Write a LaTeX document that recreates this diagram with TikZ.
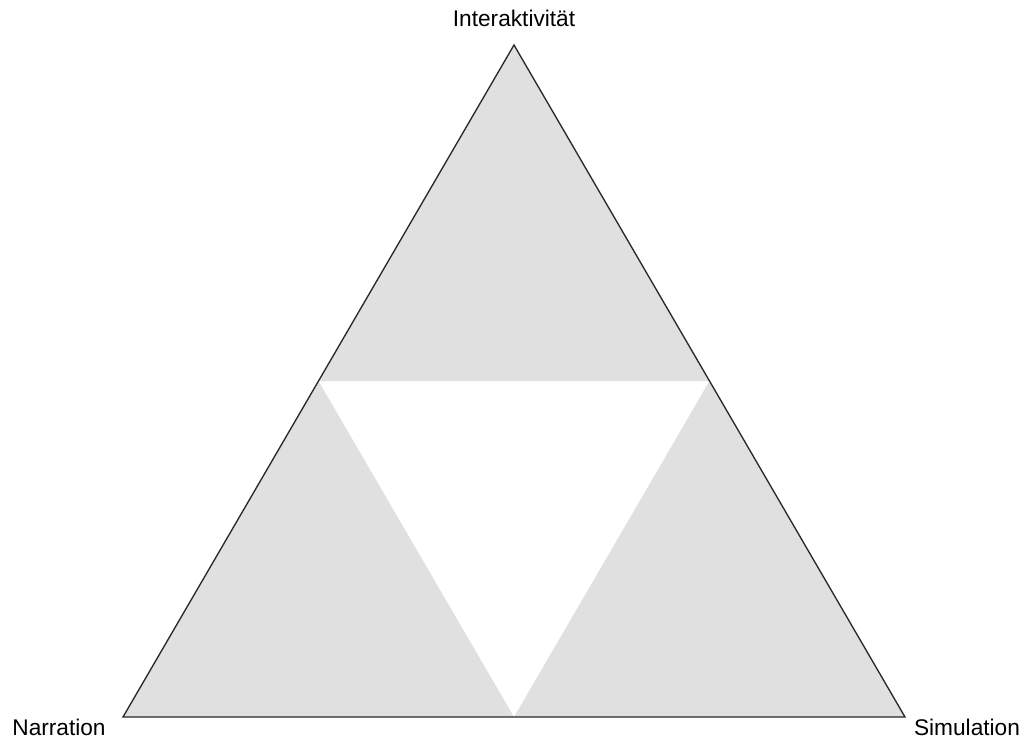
\documentclass[tikz,border=0pt]{standalone}
\usepackage{fontspec}
\setmainfont{Liberation Sans}
\usepackage{xcolor}
\usepackage{tikz}
\usetikzlibrary{positioning,calc}
\definecolor{lightgrey}{RGB}{224,224,224}
\definecolor{edgegrey}{RGB}{40,40,40}

\begin{document}
\begin{tikzpicture}[x=0.75pt,y=-0.75pt,font=\fontsize{17}{20}\selectfont,
  part/.style={fill=lightgrey,draw=none},
  corner/.style={inner sep=0pt,anchor=base}
]
  \useasboundingbox (0,0) rectangle (1027,739);
  \coordinate (top) at (514,45);
  \coordinate (left) at (123,717);
  \coordinate (right) at (905,717);
  \coordinate (ml) at ($(top)!0.5!(left)$);
  \coordinate (mr) at ($(top)!0.5!(right)$);
  \coordinate (mb) at ($(left)!0.5!(right)$);
  \fill[part] (top)--(ml)--(mr)--cycle;
  \fill[part] (ml)--(left)--(mb)--cycle;
  \fill[part] (mr)--(mb)--(right)--cycle;
  \draw[edgegrey,line width=1pt] (top)--(left)--(right)--cycle;
  \node[corner] (inter) at (514,26.5) {Interaktivität};
  \node[corner] (narr) at (59,735) {Narration};
  \node[corner] (sim) at (967,735) {Simulation};
\end{tikzpicture}
\end{document}
